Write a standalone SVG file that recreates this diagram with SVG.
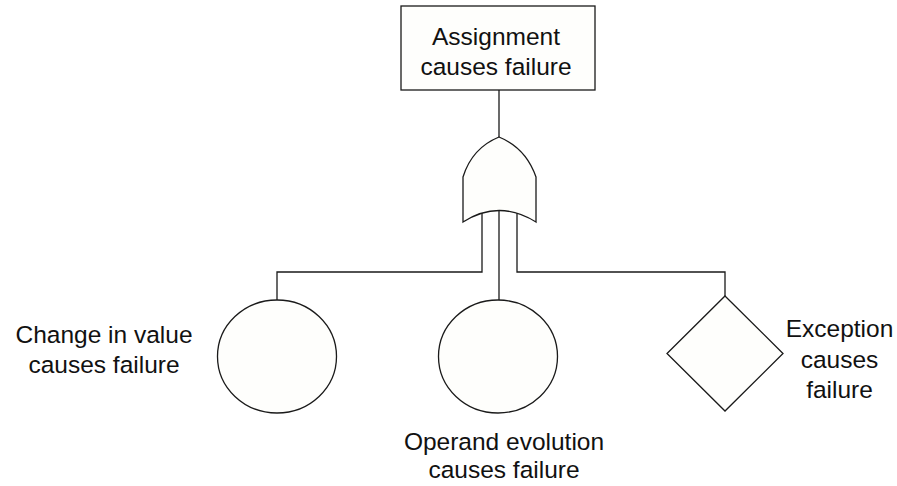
<svg xmlns="http://www.w3.org/2000/svg" width="897" height="486" viewBox="0 0 897 486">
  <style>
    .shape { fill: #fefefc; stroke: #1a1a1a; stroke-width: 1.3; }
    .wire { fill: none; stroke: #1a1a1a; stroke-width: 1.3; }
    .label { font-family: "Liberation Sans", Arial, sans-serif; font-size: 24.5px; fill: #111; text-anchor: middle; }
  </style>
  <rect width="897" height="486" fill="#ffffff"/>

  <!-- connectors -->
  <g id="connectors">
    <path class="wire" d="M499,90 V140"/>
    <path class="wire" d="M482,205 V272 H277 V300"/>
    <path class="wire" d="M499,205 V300"/>
    <path class="wire" d="M517,205 V272 H725 V296"/>
  </g>

  <!-- top event -->
  <g id="top-event">
    <rect class="shape" x="401" y="6" width="194" height="84"/>
    <text class="label" x="496" y="44.5">Assignment</text>
    <text class="label" x="496" y="75">causes failure</text>
  </g>

  <!-- OR gate -->
  <g id="or-gate">
    <path class="shape" d="M463,222 L463,177 Q472,148 499,137 Q526,148 536,177 L536,222 Q499,199 463,222 Z"/>
  </g>

  <!-- basic event: change in value -->
  <g id="event-change-in-value">
    <ellipse class="shape" cx="277" cy="356.5" rx="59.5" ry="56.5"/>
    <text class="label" x="104" y="343">Change in value</text>
    <text class="label" x="104" y="373">causes failure</text>
  </g>

  <!-- basic event: operand evolution -->
  <g id="event-operand-evolution">
    <ellipse class="shape" cx="498" cy="356.5" rx="59.5" ry="56.5"/>
    <text class="label" x="504" y="450">Operand evolution</text>
    <text class="label" x="504" y="478">causes failure</text>
  </g>

  <!-- undeveloped event: exception -->
  <g id="event-exception">
    <polygon class="shape" points="725,296 783,353.5 725,411 667,353.5"/>
    <text class="label" x="839.5" y="337">Exception</text>
    <text class="label" x="839.5" y="368">causes</text>
    <text class="label" x="839.5" y="398">failure</text>
  </g>
</svg>
